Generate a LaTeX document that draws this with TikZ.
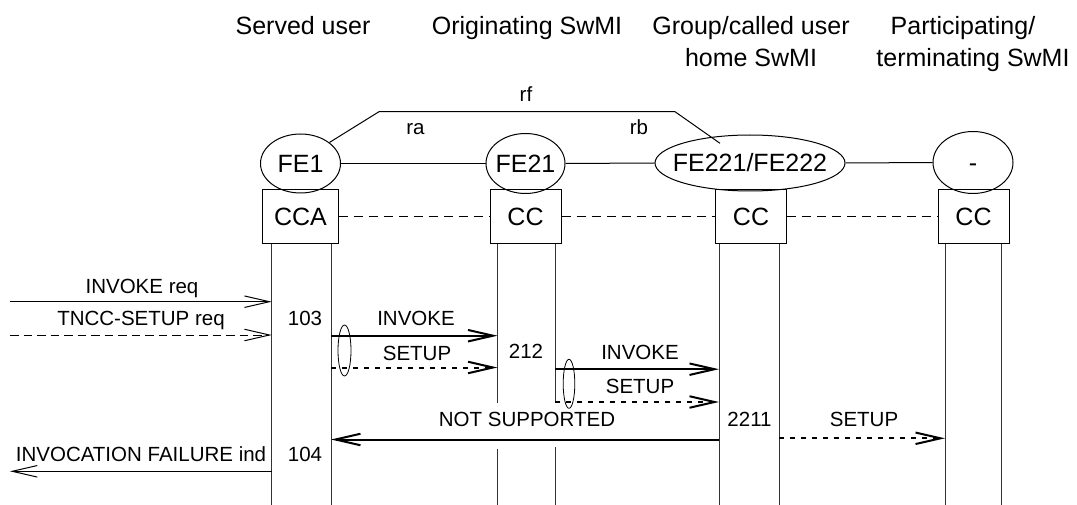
\documentclass[tikz,border=0pt]{standalone}
\usepackage{fontspec}
\setmainfont{Liberation Sans}
\usetikzlibrary{arrows.meta,shapes.geometric}
\begin{document}
\begin{tikzpicture}[x=1pt,y=-1pt,
  hdr/.style={font=\fontsize{25}{30}\selectfont, anchor=base, inner sep=0pt},
  fetext/.style={font=\fontsize{25}{30}\selectfont, inner sep=0pt, text height=18pt, text depth=0pt},
  fe/.style={ellipse, draw, line width=1pt, inner sep=0pt},
  ccbox/.style={rectangle, draw, line width=1pt, minimum height=54pt, inner sep=0pt,
                font=\fontsize{25}{30}\selectfont, text height=18pt, text depth=0pt},
  lbl/.style={font=\fontsize{20.5}{24}\selectfont, anchor=base, inner sep=0pt},
  life/.style={line width=1pt, draw=black!80},
  link/.style={line width=1pt},
  boxdash/.style={line width=1pt, dash pattern=on 9pt off 6pt},
  msg/.style={line width=1pt, -{Straight Barb[length=25pt,width=11.5pt]}},
  thickmsg/.style={line width=2pt, -{Straight Barb[length=25pt,width=11.5pt]}},
  dashmsg/.style={msg, dash pattern=on 8.5pt off 5pt},
  dotmsg/.style={thickmsg, dash pattern=on 5pt off 6pt},
  grp/.style={ellipse, draw, line width=0.8pt, inner sep=0pt},
]
\useasboundingbox (0,0) rectangle (1077,505);

% headers
\node[hdr] (h1) at (303,35) {Served user};
\node[hdr] (h2) at (527,35) {Originating SwMI};
\node[hdr] (h3a) at (751,35) {Group/called user};
\node[hdr] (h3b) at (751,66.7) {home SwMI};
\node[hdr] (h4a) at (963,35) {Participating/};
\node[hdr] (h4b) at (973,66.7) {terminating SwMI};

% functional entities
\node[fe, minimum width=80pt, minimum height=59pt, label={[fetext]center:FE1}] (fe1) at (300.5,163.5) {};
\node[fe, minimum width=79pt, minimum height=60pt, label={[fetext]center:FE21}] (fe21) at (525.5,163.5) {};
\node[fe, minimum width=190pt, minimum height=56pt, label={[fetext]center:FE221/FE222}] (fe221) at (750,163) {};
\node[fe, minimum width=80pt, minimum height=62pt, label={[fetext]center:-}] (fe3) at (973,162.5) {};

\draw[link] (fe1.east) -- (fe21.west);
\draw[link] (fe21.east) -- (fe221.west);
\draw[link] (fe221.east) -- (fe3.west);

% rf relation
\coordinate (rfa) at (379,111.7);
\coordinate (rfb) at (675,111.7);
\coordinate (rfend) at (720,143.3);
\draw[link] (fe1.36.5) -- (rfa) -- (rfb) -- (rfend);
\node[lbl] (rf) at (526,101.7) {rf};
\node[lbl] (ra) at (415.5,135) {ra};
\node[lbl] (rb) at (639,135) {rb};

% boxes
\node[ccbox, minimum width=75.6pt] (cca) at (300.5,217) {CCA};
\node[ccbox, minimum width=71pt] (cc21) at (525.5,217) {CC};
\node[ccbox, minimum width=71.5pt] (cc221) at (751,217) {CC};
\node[ccbox, minimum width=71pt] (cc3) at (973.5,217) {CC};
\draw[boxdash] (cca.east) -- (cc21.west);
\draw[boxdash] (cc21.east) -- (cc221.west);
\draw[boxdash] (cc221.east) -- (cc3.west);

% lifelines
\coordinate (L1) at (271.7,244); \coordinate (L1b) at (271.7,505);
\coordinate (L2) at (331,244);   \coordinate (L2b) at (331,505);
\coordinate (L3) at (497.5,244); \coordinate (L3b) at (497.5,505);
\coordinate (L4) at (555,244);   \coordinate (L4b) at (555,505);
\coordinate (L5) at (719,244);   \coordinate (L5b) at (719,505);
\coordinate (L6) at (779,244);   \coordinate (L6b) at (779,505);
\coordinate (L7) at (945,244);   \coordinate (L7b) at (945,505);
\coordinate (L8) at (1001,244);  \coordinate (L8b) at (1001,505);
\coordinate (W1) at (10,301.7);
\coordinate (W2) at (10,335);
\coordinate (W3) at (10,471.3);

\draw[life] (L1) -- (L1b);
\draw[life] (L2) -- (L2b);
\draw[life] (L3) -- (L3 |- 0,403);
\draw[life] (L3 |- 0,449) -- (L3b);
\draw[life] (L4) -- (L4 |- 0,403);
\draw[life] (L4 |- 0,447) -- (L4b);
\draw[life] (L5) -- (L5b);
\draw[life] (L6) -- (L6b);
\draw[life] (L7) -- (L7b);
\draw[life] (L8) -- (L8b);

% messages
\draw[msg] (W1) -- (L1 |- W1);
\node[lbl] (m1) at (142,293.3) {INVOKE req};
\draw[dashmsg] (W2) -- (L1 |- W2);
\node[lbl] (m2) at (141,325) {TNCC-SETUP req};
\node[lbl] (n103) at (305,325) {103};

\draw[thickmsg] (L2 |- 0,335.7) -- (L3 |- 0,335.7);
\node[lbl] (m3) at (416,325) {INVOKE};
\draw[dotmsg] (L2 |- 0,367.5) -- (L3 |- 0,367.5);
\node[lbl] (m4) at (417,360) {SETUP};
\node[grp, minimum width=13pt, minimum height=51pt] (g1) at (344.5,350.5) {};
\node[lbl] (n212) at (526,359) {212};

\draw[thickmsg] (L4 |- 0,369.2) -- (L5 |- 0,369.2);
\node[lbl] (m5) at (640,359.3) {INVOKE};
\draw[dotmsg] (L4 |- 0,402) -- (L5 |- 0,402);
\node[lbl] (m6) at (640,393.3) {SETUP};
\node[grp, minimum width=11.6pt, minimum height=49pt] (g2) at (569,383.8) {};

\draw[thickmsg] (L5 |- 0,439.5) -- (L2 |- 0,439.5);
\node[lbl] (m7) at (527,426.7) {NOT SUPPORTED};
\node[lbl] (n2211) at (749.5,426.7) {2211};
\draw[dotmsg] (L6 |- 0,438.3) -- (L7 |- 0,438.3);
\node[lbl] (m8) at (864,426.7) {SETUP};

\draw[msg] (L1 |- W3) -- (W3);
\node[lbl] (m9) at (141,461.7) {INVOCATION FAILURE ind};
\node[lbl] (n104) at (305,461.7) {104};
\end{tikzpicture}
\end{document}
